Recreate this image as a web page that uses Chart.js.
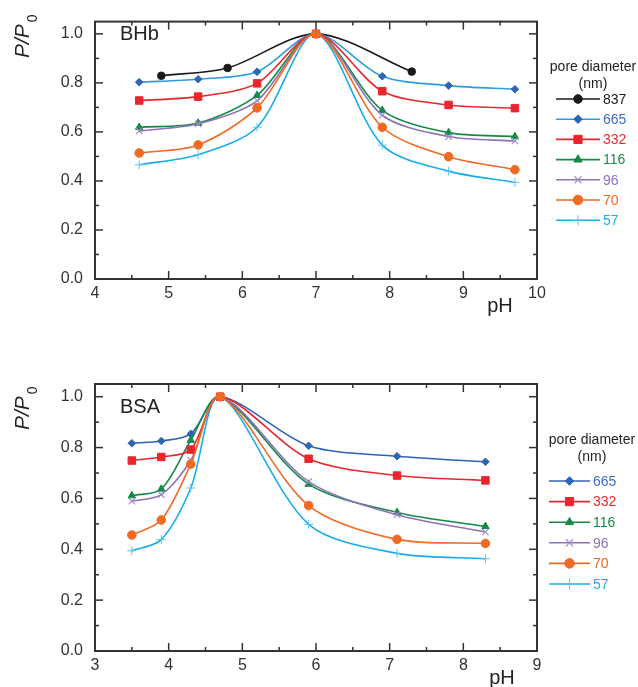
<!DOCTYPE html>
<html>
<head>
<meta charset="utf-8">
<script src="https://cdn.jsdelivr.net/npm/chart.js@4.4.0/dist/chart.umd.min.js"></script>
<style>
  body { margin: 0; background: #fff; }
  #wrap { position: relative; width: 638px; height: 687px; }
  canvas { position: absolute; left: 0; }
</style>
</head>
<body>
<div id="wrap">
  <canvas id="bhb" width="638" height="345" style="top:0"></canvas>
  <canvas id="bsa" width="638" height="342" style="top:345px"></canvas>
</div>
<script>
// --- data ---
const bhbPH = [4.6, 5.4, 6.2, 7.0, 7.9, 8.8, 9.7];
const bhbPH837 = [4.9, 5.8, 7.0, 8.3];
const bhb837 = [0.829, 0.861, 1.0, 0.846];
const bhb665 = [0.803, 0.815, 0.845, 1.0, 0.827, 0.789, 0.774];
const bhb332 = [0.728, 0.744, 0.798, 1.0, 0.766, 0.710, 0.697];
const bhb116 = [0.619, 0.636, 0.749, 1.0, 0.688, 0.597, 0.581];
const bhb96 = [0.604, 0.633, 0.727, 1.0, 0.668, 0.581, 0.563];
const bhb70 = [0.514, 0.547, 0.698, 1.0, 0.619, 0.499, 0.446];
const bhb57 = [0.466, 0.507, 0.619, 1.0, 0.546, 0.440, 0.394];

const bsaPH = [3.5, 3.9, 4.3, 4.7, 5.9, 7.1, 8.3];
const bsa665 = [0.817, 0.826, 0.854, 1.0, 0.807, 0.766, 0.744];
const bsa332 = [0.749, 0.763, 0.792, 1.0, 0.756, 0.690, 0.671];
const bsa116 = [0.611, 0.637, 0.829, 1.0, 0.656, 0.545, 0.490];
const bsa96 = [0.589, 0.615, 0.750, 1.0, 0.666, 0.536, 0.468];
const bsa70 = [0.456, 0.515, 0.735, 1.0, 0.572, 0.439, 0.423];
const bsa57 = [0.394, 0.438, 0.641, 1.0, 0.498, 0.384, 0.363];

const yMin = 0, yMax = 1.05;

const FONT = "'Liberation Sans', Arial, sans-serif";

// marker / colour per pore diameter
const styles = {
  "837": { line: "#1a1a1a", fill: "#1a1a1a", text: "#1a1a1a", point: "circle", r: 3.8, bw: 1, order: 6 },
  "665": { line: "#2e64b4", fill: "#2e64b4", text: "#3d6fc2", point: "rectRot", r: 3.8, bw: 1, order: 5 },
  "332": { line: "#e8262d", fill: "#e8262d", text: "#e8262d", point: "rect", r: 5.3, bw: 1, order: 1 },
  "116": { line: "#148a47", fill: "#148a47", text: "#148a47", point: "triangle", r: 4.3, bw: 1, order: 4 },
  "96":  { line: "#8e72b8", fill: "#a08cc8", text: "#8e72b8", point: "crossRot", r: 4.5, bw: 1.2, order: 3 },
  "70":  { line: "#f06a24", fill: "#f06a24", text: "#f06a24", point: "circle", r: 4.3, bw: 1, order: 0 },
  "57":  { line: "#18aee8", fill: "#5cc4ee", text: "#18aee8", point: "cross", r: 4.5, bw: 1, order: 2 }
};

function series(label, xs, ys, lineColor) {
  const s = styles[label];
  return {
    label: label,
    data: xs.map((x, i) => ({ x: x, y: ys[i] })),
    borderColor: lineColor || s.line,
    backgroundColor: s.fill,
    pointStyle: s.point,
    pointRadius: s.r,
    pointBackgroundColor: s.fill,
    pointBorderColor: s.fill,
    pointBorderWidth: s.bw,
    borderWidth: 1.6,
    tension: 0.3,
    order: s.order,
    textColor: s.text
  };
}

// inward ticks, frame, titles and the legend
const decor = {
  id: "decor",
  afterDraw(chart, args, o) {
    const ctx = chart.ctx, a = chart.chartArea;
    const xs = chart.scales.x, ys = chart.scales.y;
    ctx.save();
    ctx.strokeStyle = "#333";
    ctx.lineWidth = 1.5;
    function seg(x1, y1, x2, y2) {
      ctx.beginPath(); ctx.moveTo(x1, y1); ctx.lineTo(x2, y2); ctx.stroke();
    }
    xs.ticks.forEach(t => {
      const v = t.value * 2;
      if (Math.abs(v - Math.round(v)) > 1e-6) return;
      const len = Math.round(v) % 2 === 0 ? 8 : 4;
      const px = xs.getPixelForValue(t.value);
      seg(px, a.bottom, px, a.bottom - len);
      seg(px, a.top, px, a.top + len);
    });
    ys.ticks.forEach(t => {
      const v = t.value * 10;
      if (Math.abs(v - Math.round(v)) > 1e-6) return;
      const len = Math.round(v) % 2 === 0 ? 8 : 4;
      const py = ys.getPixelForValue(t.value);
      seg(a.left, py, a.left + len, py);
      seg(a.right, py, a.right - len, py);
    });
    ctx.lineWidth = 2;
    ctx.strokeRect(a.left, a.top, a.right - a.left, a.bottom - a.top);

    // panel name
    ctx.fillStyle = "#222";
    ctx.font = "20px " + FONT;
    ctx.textAlign = "left";
    ctx.textBaseline = "alphabetic";
    ctx.fillText(o.name, 120, o.nameY);

    // x title
    ctx.textAlign = "center";
    ctx.fillText("pH", o.phX, a.bottom + 33);

    // y title P/P0
    ctx.save();
    ctx.translate(29, o.yTitleY);
    ctx.rotate(-Math.PI / 2);
    ctx.textAlign = "left";
    ctx.font = "italic 21px " + FONT;
    ctx.fillText("P/P", 0, 0);
    const w = ctx.measureText("P/P").width;
    ctx.font = "14px " + FONT;
    ctx.fillText("0", w + 2, 8);
    ctx.restore();

    // legend
    ctx.fillStyle = "#222";
    ctx.textAlign = "center";
    ctx.font = "14px " + FONT;
    ctx.fillText("pore diameter", o.legCenter, o.legTitleY);
    ctx.fillText("(nm)", o.legCenter, o.legTitleY + 17);
    chart.data.datasets.forEach((ds, i) => {
      const y = o.legY0 + i * o.legStep;
      ctx.strokeStyle = ds.borderColor;
      ctx.lineWidth = 1.6;
      seg(o.legX1, y, o.legX2, y);
      ctx.fillStyle = ds.pointBackgroundColor;
      ctx.strokeStyle = ds.pointBorderColor;
      ctx.lineWidth = ds.pointBorderWidth;
      Chart.helpers.drawPoint(ctx, {
        pointStyle: ds.pointStyle, radius: ds.pointRadius + 0.5, rotation: 0, borderWidth: ds.pointBorderWidth
      }, (o.legX1 + o.legX2) / 2, y);
      ctx.fillStyle = ds.textColor;
      ctx.textAlign = "left";
      ctx.textBaseline = "middle";
      ctx.font = "14px " + FONT;
      ctx.fillText(ds.label, o.legX2 + 3, y + 1);
      ctx.textBaseline = "alphabetic";
    });
    ctx.restore();
  }
};

function makeChart(id, datasets, xMin, xMax, layout, decorOpts) {
  return new Chart(document.getElementById(id), {
    type: "line",
    data: { datasets: datasets },
    plugins: [decor],
    options: {
      responsive: false,
      animation: false,
      layout: { padding: { left: 0, right: 638 - 537, top: layout.top, bottom: 0 } },
      plugins: { legend: { display: false }, tooltip: { enabled: false }, decor: decorOpts },
      scales: {
        x: {
          type: "linear", min: xMin, max: xMax,
          grid: { display: false, drawTicks: false },
          border: { display: false },
          afterFit: s => { s.height = layout.xH; },
          ticks: {
            stepSize: 0.5, autoSkip: false, maxRotation: 0, padding: 5,
            color: "#333", font: { family: FONT, size: 16 },
            callback: v => Math.abs(v - Math.round(v)) < 1e-6 ? String(Math.round(v)) : ""
          }
        },
        y: {
          min: yMin, max: yMax,
          grid: { display: false, drawTicks: false },
          border: { display: false },
          afterFit: s => { s.width = 95; },
          ticks: {
            stepSize: 0.1, autoSkip: false, includeBounds: false, padding: 12,
            color: "#333", font: { family: FONT, size: 16 },
            callback: v => {
              const k = Math.round(v * 10);
              if (Math.abs(v * 10 - k) > 1e-6 || k % 2 !== 0) return "";
              return (k / 10).toFixed(1);
            }
          }
        }
      }
    }
  });
}

makeChart("bhb", [
  series("837", bhbPH837, bhb837),
  series("665", bhbPH, bhb665, "#2a9de0"),
  series("332", bhbPH, bhb332),
  series("116", bhbPH, bhb116),
  series("96", bhbPH, bhb96),
  series("70", bhbPH, bhb70),
  series("57", bhbPH, bhb57)
], 4, 10, { top: 12, xH: 345 - 279 }, {
  name: "BHb", nameY: 40, phX: 500, yTitleY: 58,
  legCenter: 593, legTitleY: 71, legY0: 99, legStep: 20.2, legX1: 556, legX2: 600
});

makeChart("bsa", [
  series("665", bsaPH, bsa665),
  series("332", bsaPH, bsa332),
  series("116", bsaPH, bsa116),
  series("96", bsaPH, bsa96),
  series("70", bsaPH, bsa70),
  series("57", bsaPH, bsa57)
], 3, 9, { top: 39, xH: 342 - 306 }, {
  name: "BSA", nameY: 68, phX: 502, yTitleY: 85,
  legCenter: 592, legTitleY: 99, legY0: 136, legStep: 20.6, legX1: 549, legX2: 590
});
</script>
</body>
</html>
